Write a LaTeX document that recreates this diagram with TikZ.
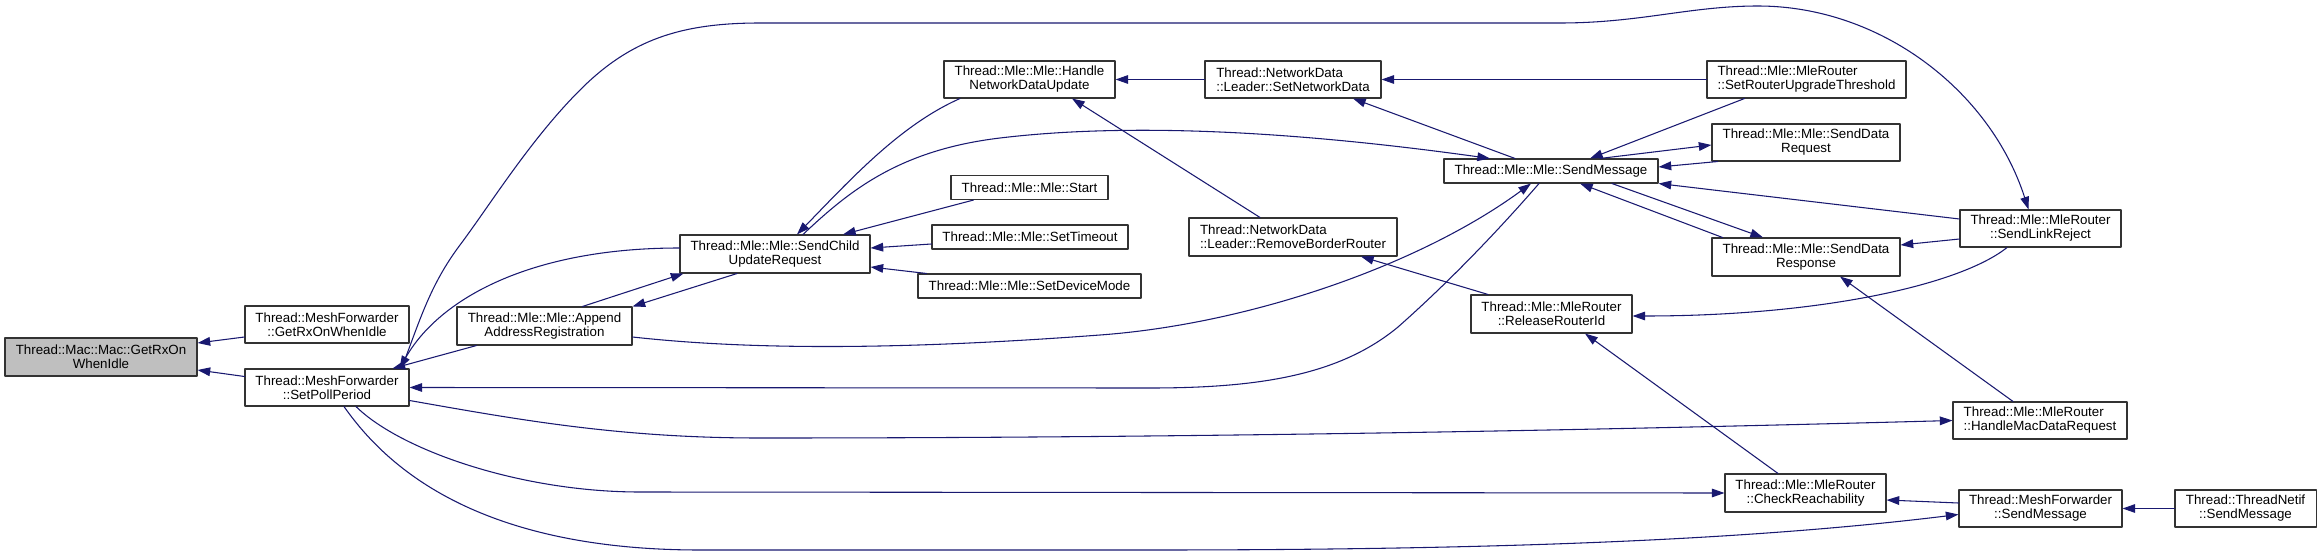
\documentclass[tikz,border=0pt]{standalone}
\usepackage{fontspec}
\setmainfont{Liberation Sans}
\usetikzlibrary{arrows.meta}
\definecolor{edgeblue}{HTML}{191970}
\definecolor{rootgray}{HTML}{BFBFBF}
\begin{document}
\begin{tikzpicture}[x=0.75pt,y=-0.75pt,line cap=round,line join=round,
  fn/.style 2 args={draw=black!80,line width=0.8pt,fill=white,inner sep=0pt,align=center,
    font=\fontsize{10}{10.5}\selectfont,minimum width=#1*0.75pt,minimum height=#2*0.75pt},
  call/.style={draw=edgeblue,line width=0.8pt,-{Triangle[length=9.5pt,width=6.5pt]}}]
  \useasboundingbox (0,0) rectangle (2322,556);
  \node[fn={192}{38},fill=rootgray] (macGetRx) at (101,357) {Thread::Mac::Mac::GetRxOn\\WhenIdle};
  \node[fn={164}{37}] (mfGetRx) at (327,324.5) {Thread::MeshForwarder\\::GetRxOnWhenIdle};
  \node[fn={164}{37}] (mfPoll) at (327,387.5) {Thread::MeshForwarder\\::SetPollPeriod};
  \node[fn={175}{38}] (mleAppend) at (544.5,326) {Thread::Mle::Mle::Append\\AddressRegistration};
  \node[fn={190}{38}] (mleSendChild) at (775,254) {Thread::Mle::Mle::SendChild\\UpdateRequest};
  \node[fn={171}{37}] (mleHandleNdu) at (1029.5,79.5) {Thread::Mle::Mle::Handle\\NetworkDataUpdate};
  \node[fn={157}{24}] (mleStart) at (1029.5,187.5) {Thread::Mle::Mle::Start};
  \node[fn={196}{24}] (mleSetTimeout) at (1030,237) {Thread::Mle::Mle::SetTimeout};
  \node[fn={223}{24}] (mleSetDevMode) at (1029.5,286) {Thread::Mle::Mle::SetDeviceMode};
  \node[fn={176}{37},align=left] (ndSetNetData) at (1293,79.5) {Thread::NetworkData\\::Leader::SetNetworkData};
  \node[fn={208}{38},align=left] (ndRemoveBR) at (1293,237) {Thread::NetworkData\\::Leader::RemoveBorderRouter};
  \node[fn={214}{24}] (mleSendMsg) at (1551,171) {Thread::Mle::Mle::SendMessage};
  \node[fn={161}{38}] (mrReleaseRid) at (1551.5,314) {Thread::Mle::MleRouter\\::ReleaseRouterId};
  \node[fn={199}{37},align=left] (mrSetRUT) at (1806.5,79.5) {Thread::Mle::MleRouter\\::SetRouterUpgradeThreshold};
  \node[fn={188}{37}] (mleSendDataReq) at (1806,142.5) {Thread::Mle::Mle::SendData\\Request};
  \node[fn={188}{38}] (mleSendDataResp) at (1806,257) {Thread::Mle::Mle::SendData\\Response};
  \node[fn={161}{37}] (mrSendLinkRej) at (2040.5,228.5) {Thread::Mle::MleRouter\\::SendLinkReject};
  \node[fn={174}{37},align=left] (mrHandleMac) at (2040,420.5) {Thread::Mle::MleRouter\\::HandleMacDataRequest};
  \node[fn={161}{38}] (mrCheckReach) at (1805.5,493) {Thread::Mle::MleRouter\\::CheckReachability};
  \node[fn={163}{37}] (mfSendMsg) at (2040.5,508.5) {Thread::MeshForwarder\\::SendMessage};
  \node[fn={141}{37}] (netifSendMsg) at (2245.5,508.5) {Thread::ThreadNetif\\::SendMessage};

  \draw[call] ([shift={(0,12.5)}]mfGetRx.west) -- ([shift={(0,-14)}]macGetRx.east);
  \draw[call] ([shift={(0,-11)}]mfPoll.west) -- ([shift={(0,13)}]macGetRx.east);
  \draw[call] ([shift={(20,0)}]mleAppend.south west) -- ([shift={(-17,0)}]mfPoll.north east);
  \draw[call] ([shift={(0,-6)}]mleSendChild.west) .. controls (530,248) and (439,299) .. ([shift={(-10,0)}]mfPoll.north east);
  \draw[call] ([shift={(-8,0)}]mfPoll.north east) .. controls (420,320) and (430,285) .. (460,245)
    .. controls (490,205) and (530,140) .. (580,90) .. controls (630,40) and (680,23) .. (760,23)
    -- (1560,23) .. controls (1640,23) and (1690,6) .. (1758,6)
    .. controls (1880,6) and (1990,90) .. ([shift={(-12,0)}]mrSendLinkRej.north);
  \draw[call] ([shift={(-12,0)}]mleSendMsg.south) .. controls (1490,240) and (1440,290) .. (1398,327)
    .. controls (1340,375) and (1260,388) .. (1150,388) -- (mfPoll.east);
  \draw[call] ([shift={(0,13)}]mfPoll.east) .. controls (520,420) and (620,438) .. (760,438)
    .. controls (1200,438) and (1600,430) .. (mrHandleMac.west);
  \draw[call] ([shift={(29,0)}]mfPoll.south) .. controls (400,450) and (520,492) .. (640,492) -- (mrCheckReach.west);
  \draw[call] ([shift={(17,0)}]mfPoll.south) .. controls (385,465) and (475,550) .. (700,550) -- (1150,550)
    .. controls (1500,550) and (1750,540) .. ([shift={(0,6)}]mfSendMsg.west);
  \draw[call] ([shift={(38,0)}]mleAppend.north) -- ([shift={(4,0)}]mleSendChild.south west);
  \draw[call] ([shift={(-38,0)}]mleSendChild.south) -- (mleAppend.north east);
  \draw[call] ([shift={(0,11)}]mleAppend.east) .. controls (750,350) and (900,350) .. (1100,335)
    .. controls (1250,324) and (1420,265) .. ([shift={(-20,0)}]mleSendMsg.south);
  \draw[call] ([shift={(-69.5,0)}]mleHandleNdu.south) .. controls (900,125) and (850,180) .. ([shift={(22,0)}]mleSendChild.north);
  \draw[call] ([shift={(28,0)}]mleSendChild.north) .. controls (850,190) and (900,150) .. (1000,138)
    .. controls (1100,126) and (1250,125) .. ([shift={(-61,0)}]mleSendMsg.north);
  \draw[call] ([shift={(-56,0)}]mleStart.south) -- ([shift={(68,0)}]mleSendChild.north);
  \draw[call] ([shift={(0,7)}]mleSetTimeout.west) -- ([shift={(0,-6)}]mleSendChild.east);
  \draw[call] ([shift={(9,0)}]mleSetDevMode.north west) -- ([shift={(0,13)}]mleSendChild.east);
  \draw[call] (ndSetNetData.west) -- (mleHandleNdu.east);
  \draw[call] ([shift={(-33,0)}]ndRemoveBR.north) -- ([shift={(42.5,0)}]mleHandleNdu.south);
  \draw[call] (mrSetRUT.west) -- (ndSetNetData.east);
  \draw[call] ([shift={(-36,0)}]mleSendMsg.north) -- ([shift={(60,0)}]ndSetNetData.south);
  \draw[call] ([shift={(38,0)}]mrSetRUT.south west) -- ([shift={(39,0)}]mleSendMsg.north);
  \draw[call] ([shift={(49,0)}]mleSendMsg.north) -- ([shift={(0,2.5)}]mleSendDataReq.west);
  \draw[call] ([shift={(6,0)}]mleSendDataReq.south west) -- ([shift={(0,-4)}]mleSendMsg.east);
  \draw[call] ([shift={(0,-9.5)}]mrSendLinkRej.west) -- (mleSendMsg.south east);
  \draw[call] ([shift={(61,0)}]mleSendMsg.south) -- ([shift={(-43,0)}]mleSendDataResp.north);
  \draw[call] ([shift={(11,0)}]mleSendDataResp.north west) -- ([shift={(29,0)}]mleSendMsg.south);
  \draw[call] ([shift={(0,10.5)}]mrSendLinkRej.west) -- ([shift={(0,-12)}]mleSendDataResp.east);
  \draw[call] ([shift={(-27,0)}]mrHandleMac.north) -- ([shift={(34,0)}]mleSendDataResp.south);
  \draw[call] ([shift={(-33.5,0)}]mrSendLinkRej.south) .. controls (1960,285) and (1820,316) .. ([shift={(0,2)}]mrReleaseRid.east);
  \draw[call] ([shift={(-63.5,0)}]mrReleaseRid.north) -- ([shift={(68,0)}]ndRemoveBR.south);
  \draw[call] ([shift={(-27.5,0)}]mrCheckReach.north) -- ([shift={(33.5,0)}]mrReleaseRid.south);
  \draw[call] ([shift={(0,-5.5)}]mfSendMsg.west) -- ([shift={(0,7)}]mrCheckReach.east);
  \draw[call] (netifSendMsg.west) -- (mfSendMsg.east);
\end{tikzpicture}
\end{document}
